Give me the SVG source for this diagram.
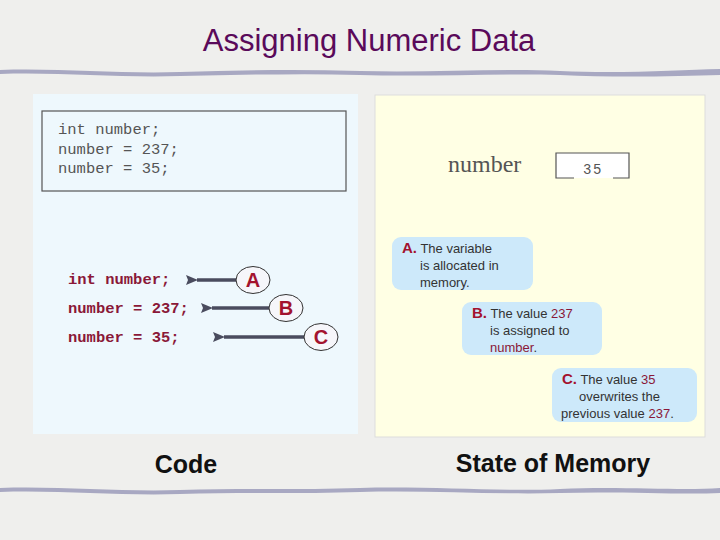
<svg xmlns="http://www.w3.org/2000/svg" width="720" height="540" viewBox="0 0 720 540">
<defs>
<marker id="ah" markerWidth="12" markerHeight="10" refX="1" refY="5" orient="auto" markerUnits="userSpaceOnUse">
<path d="M12,0 L0,5 L12,10 L10,5 Z" fill="#4a4c5e"/>
</marker>
<style>
.code{font-family:"Liberation Mono",monospace;font-size:15.5px;fill:#555}
.rcode{font-family:"Liberation Mono",monospace;font-size:15.5px;fill:#8a1838;font-weight:bold}
.lbl{font-family:"Liberation Sans",Arial,sans-serif;font-size:20px;font-weight:bold;fill:#a3122e;text-anchor:middle}
.co{font-family:"Liberation Sans",Arial,sans-serif;font-size:13px;fill:#333}
.cl{font-size:15px;font-weight:bold;fill:#a3122e}
.red{fill:#8a1838}
.bub{fill:#cde9fa}
.conn{stroke:#4a4c5e;stroke-width:3.5;fill:none}
.circ{fill:#f6f6fa;stroke:#333;stroke-width:1}
.wave{fill:#a8a8c2}
.foot{font-family:"Liberation Sans",Arial,sans-serif;font-size:25px;font-weight:bold;fill:#111;text-anchor:middle}
</style>
</defs>
<rect width="720" height="540" fill="#efefed"/>
<text x="369" y="51" text-anchor="middle" font-family="Liberation Sans, Arial, sans-serif" font-size="31" fill="#5a0a5a">Assigning Numeric Data</text>
<path class="wave" d="M0,70 C60,68 120,74 180,72 C240,70 300,69 360,71 C430,73 500,68 560,71 C620,74 680,70 720,69 L720,75 C680,76 620,78 560,75 C500,73 430,77 360,75 C300,73 240,75 180,76 C120,78 60,72 0,74 Z"/>
<path class="wave" d="M0,488 C60,486 120,492 180,490 C240,488 300,490 360,488 C430,486 500,492 560,489 C620,486 680,491 720,488 L720,493 C680,495 620,491 560,493 C500,495 430,490 360,492 C300,494 240,492 180,494 C120,496 60,490 0,492 Z"/>
<g id="code-panel">
<rect x="33" y="94" width="325" height="340" fill="#eef8fd"/>
<rect x="42" y="111" width="304" height="80" fill="#eef8fd" stroke="#555" stroke-width="1.2"/>
<text class="code" x="58" y="134">int number;</text>
<text class="code" x="58" y="154">number = 237;</text>
<text class="code" x="58" y="173">number = 35;</text>
<text class="rcode" x="68" y="284">int number;</text>
<text class="rcode" x="68" y="313">number = 237;</text>
<text class="rcode" x="68" y="342">number = 35;</text>
</g>
<g id="memory-panel">
<rect x="375" y="95" width="330" height="342" fill="#ffffe4" stroke="#ddd" stroke-width="1"/>
<text x="448" y="172" font-family="Liberation Serif, serif" font-size="24" fill="#555">number</text>
<rect x="556" y="153" width="73" height="25" fill="#fff"/>
<path d="M574,178 L556,178 L556,153 L629,153 L629,178 L613,178" fill="none" stroke="#555" stroke-width="1.2"/>
<text x="593" y="174" text-anchor="middle" font-family="Liberation Mono, monospace" font-size="14" letter-spacing="1.5" fill="#555">35</text>
</g>
<g id="connectors">
<line class="conn" x1="237" y1="280" x2="197" y2="280" marker-end="url(#ah)"/>
<line class="conn" x1="269" y1="308" x2="212" y2="308" marker-end="url(#ah)"/>
<line class="conn" x1="305" y1="337" x2="224" y2="337" marker-end="url(#ah)"/>
</g>
<g id="node-A">
<ellipse class="circ" cx="253" cy="280" rx="17" ry="13.5"/>
<text class="lbl" x="253" y="287">A</text>
</g>
<g id="node-B">
<ellipse class="circ" cx="286" cy="308" rx="17" ry="13.5"/>
<text class="lbl" x="286" y="315">B</text>
</g>
<g id="node-C">
<ellipse class="circ" cx="321" cy="337" rx="17" ry="13.5"/>
<text class="lbl" x="321" y="344">C</text>
</g>
<g id="callout-A">
<rect class="bub" x="392" y="237" width="141" height="53" rx="9"/>
<text class="co" x="402" y="253"><tspan class="cl">A.</tspan> The variable</text>
<text class="co" x="420" y="270">is allocated in</text>
<text class="co" x="420" y="287">memory.</text>
</g>
<g id="callout-B">
<rect class="bub" x="462" y="302" width="140" height="53" rx="9"/>
<text class="co" x="472" y="318"><tspan class="cl">B.</tspan> The value <tspan class="red">237</tspan></text>
<text class="co" x="490" y="335">is assigned to</text>
<text class="co" x="490" y="352"><tspan class="red">number</tspan>.</text>
</g>
<g id="callout-C">
<rect class="bub" x="552" y="368" width="145" height="54" rx="9"/>
<text class="co" x="562" y="384"><tspan class="cl">C.</tspan> The value <tspan class="red">35</tspan></text>
<text class="co" x="579" y="401">overwrites the</text>
<text class="co" x="561" y="418">previous value <tspan class="red">237</tspan>.</text>
</g>
<text class="foot" x="186" y="473">Code</text>
<text class="foot" x="553" y="472">State of Memory</text>
</svg>
